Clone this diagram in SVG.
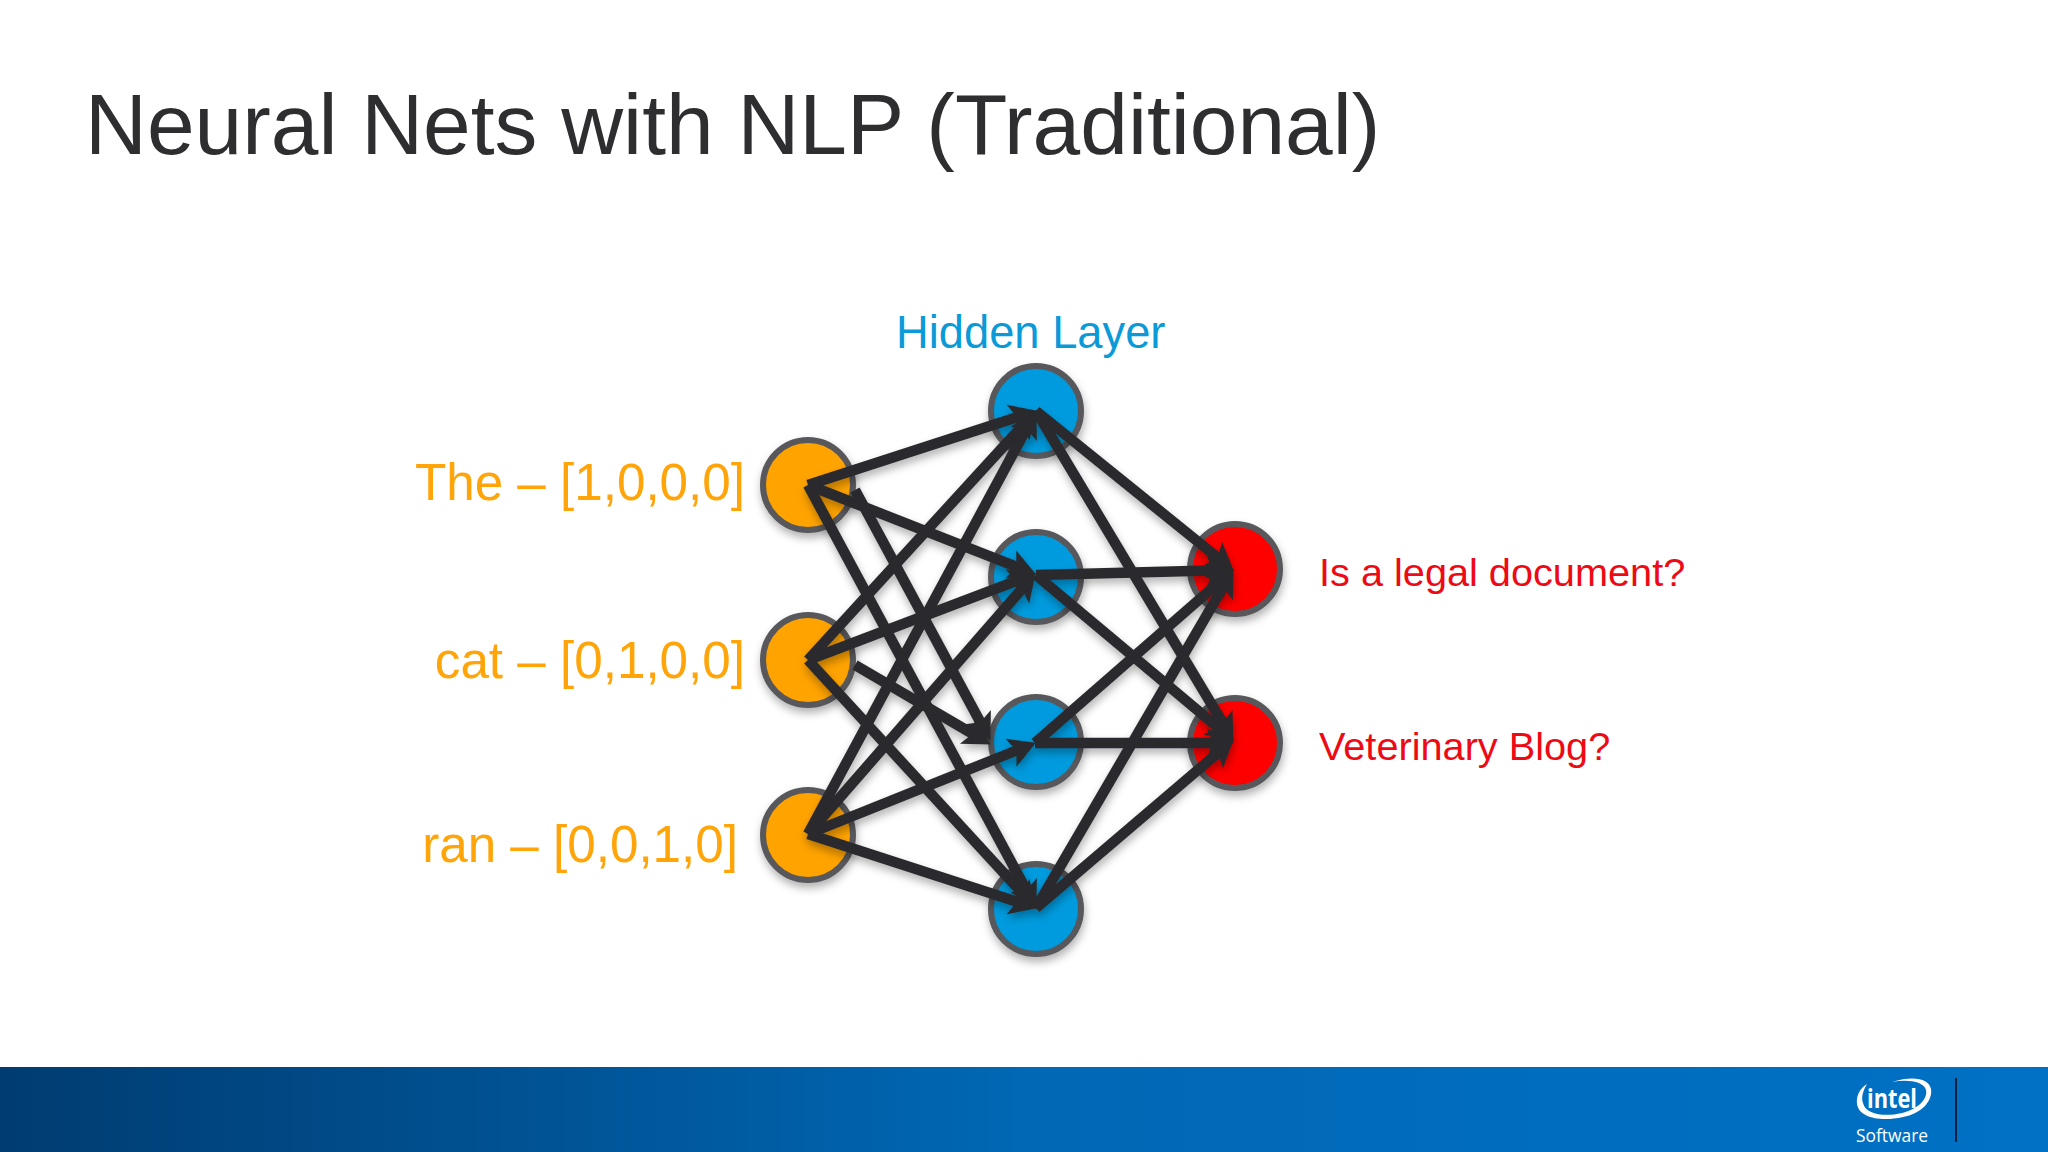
<svg xmlns="http://www.w3.org/2000/svg" width="2048" height="1152" viewBox="0 0 2048 1152">
<style>
text{font-family:"Liberation Sans",Arial,sans-serif}
.n{stroke:#58595b;stroke-width:6;filter:url(#sh)}
.o{fill:#ffa300}.b{fill:#009bde}.r{fill:#ff0000}
.ol{fill:#ffa50a;font-size:51.200px;text-anchor:end}
.rl{fill:#ee0a14;font-size:39.700px}
#edges line{stroke:#2b2b2d;stroke-width:10.500;marker-end:url(#ah)}
</style>
<defs>
<filter id="sh" x="-30%" y="-30%" width="160%" height="160%"><feDropShadow dx="1" dy="5" stdDeviation="4" flood-color="#000" flood-opacity="0.3"/></filter>
<marker id="ah" markerUnits="userSpaceOnUse" markerWidth="50" markerHeight="50" refX="25" refY="25" orient="auto" viewBox="0 0 50 50"><path d="M11,10 L38,25 L11,40 L17,25 z" fill="#2b2b2d"/></marker>
<linearGradient id="bar" x1="0" x2="1" y1="0" y2="0"><stop offset="0" stop-color="#003c71"/><stop offset="0.5" stop-color="#0068b5"/><stop offset="1" stop-color="#0071c5"/></linearGradient>
</defs>
<rect width="2048" height="1152" fill="#fff"/>
<text x="85" y="154" font-size="85.700" fill="#2e2e30">Neural Nets with NLP (Traditional)</text>
<text id="hidden-label" x="896" y="348" font-size="45.300" fill="#0a9ad8">Hidden Layer</text>
<g id="in1"><circle class="n o" cx="808" cy="485" r="45"/><text class="ol" x="745" y="500">The – [1,0,0,0]</text></g>
<g id="in2"><circle class="n o" cx="808" cy="660" r="45"/><text class="ol" x="745" y="678">cat – [0,1,0,0]</text></g>
<g id="in3"><circle class="n o" cx="808" cy="835" r="45"/><text class="ol" x="738" y="862">ran – [0,0,1,0]</text></g>
<g id="h1"><circle class="n b" cx="1036" cy="411" r="45"/></g>
<g id="h2"><circle class="n b" cx="1036" cy="577" r="45"/></g>
<g id="h3"><circle class="n b" cx="1036" cy="742" r="45"/></g>
<g id="h4"><circle class="n b" cx="1036" cy="909" r="45"/></g>
<g id="out1"><circle class="n r" cx="1235" cy="569" r="45"/><text class="rl" x="1319" y="586">Is a legal document?</text></g>
<g id="out2"><circle class="n r" cx="1235" cy="743" r="45"/><text class="rl" x="1319" y="760">Veterinary Blog?</text></g>
<g id="edges" filter="url(#sh)">
<line x1="808" y1="485" x2="1024.600" y2="414.700"/>
<line x1="808" y1="485" x2="1023.800" y2="569.600"/>
<line x1="855" y1="490" x2="984.300" y2="729.400"/>
<line x1="808" y1="485" x2="1030.300" y2="897.400"/>
<line x1="808" y1="660" x2="1027.900" y2="419.900"/>
<line x1="808" y1="660" x2="1023.800" y2="578.200"/>
<line x1="855" y1="665" x2="979.600" y2="737.900"/>
<line x1="808" y1="660" x2="1027.900" y2="899.200"/>
<line x1="808" y1="834" x2="1030.300" y2="421.600"/>
<line x1="808" y1="834" x2="1027.100" y2="583"/>
<line x1="808" y1="834" x2="1023.900" y2="747.500"/>
<line x1="808" y1="834" x2="1024.600" y2="904.300"/>
<line x1="1036" y1="411" x2="1223.700" y2="562.500"/>
<line x1="1036" y1="411" x2="1226.800" y2="729.700"/>
<line x1="1036" y1="575" x2="1221" y2="570.300"/>
<line x1="1036" y1="575" x2="1223.800" y2="732.300"/>
<line x1="1035" y1="743" x2="1224" y2="577.900"/>
<line x1="1035" y1="743" x2="1221" y2="743"/>
<line x1="1036" y1="908" x2="1227" y2="580.400"/>
<line x1="1036" y1="908" x2="1223.900" y2="747.800"/>
</g>
<rect id="footer" x="0" y="1067" width="2048" height="85" fill="url(#bar)"/>
<g id="logo" transform="translate(-3,-1)">
<path d="M1895,1083 C1917,1076 1932,1080 1934,1090 C1936,1102 1924,1115 1906,1118 C1884,1123 1862,1119 1860,1105 C1859,1097 1863,1089 1870,1085 C1866,1092 1864,1098 1866,1104 C1869,1116 1888,1118 1905,1114 C1921,1110 1931,1100 1929,1091 C1927,1083 1912,1080 1895,1083 z" fill="#fff"/>
<text x="1895" y="1109" font-size="27" font-weight="700" fill="#fff" text-anchor="middle" style="font-family:'Open Sans',sans-serif" textLength="50" lengthAdjust="spacingAndGlyphs">intel</text>
</g>
<text x="1892" y="1142" font-size="17.400" fill="#fff" text-anchor="middle" style="font-family:'Open Sans',sans-serif">Software</text>
<rect x="1955" y="1078" width="2" height="64" fill="#06203d"/>
</svg>
